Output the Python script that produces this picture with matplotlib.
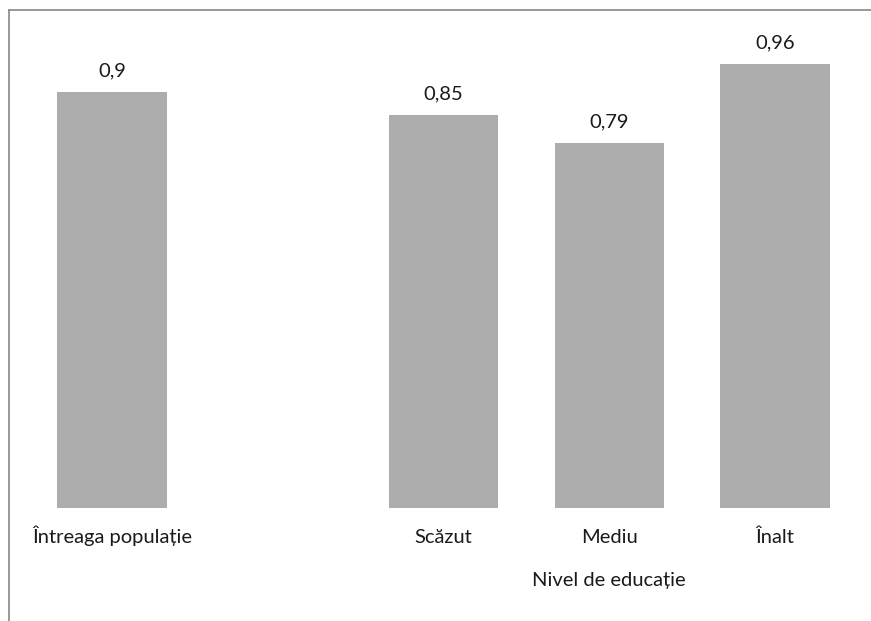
import matplotlib.pyplot as plt
from matplotlib.lines import Line2D

# categories and values
labels = ["Întreaga populație", "Scăzut", "Mediu", "Înalt"]
positions = [0, 2, 3, 4]
values = [0.9, 0.85, 0.79, 0.96]
value_text = ["0,9", "0,85", "0,79", "0,96"]

plt.rcParams['font.family'] = ['Lato', 'DejaVu Sans']
FS = 14.5

W, H = 871, 621
fig = plt.figure(figsize=(W / 100, H / 100), dpi=100)

# axes placed in pixel terms
left, right, bottom, top = 29, 858, 508, 46
ax = fig.add_axes([left / W, 1 - bottom / H, (right - left) / W, (bottom - top) / H])

ax.bar(positions, values, width=0.66, color="#adadad")
for x, v, t in zip(positions, values, value_text):
    ax.annotate(t, (x, v), xytext=(0, 11.5), textcoords="offset points",
                ha="center", va="baseline", fontsize=FS, color="#1a1a1a")

ax.set_xlim(-0.5, 4.5)
ax.set_ylim(0, 1)
ax.set_xticks([])
ax.set_yticks([])
for s in ax.spines.values():
    s.set_visible(False)

# category labels, baselines aligned
for x, lab in zip(positions, labels):
    ax.annotate(lab, (x, 0), xytext=(0, -25), textcoords="offset points",
                ha="center", va="baseline", fontsize=FS, color="#1a1a1a")

# axis title under the three education levels
ax.annotate("Nivel de educație", (3, 0), xytext=(0, -56.5), textcoords="offset points",
            ha="center", va="baseline", fontsize=FS, color="#1a1a1a")

# outer chart border (only left and top visible in the crop)
fig.add_artist(Line2D([8.5 / W, 8.5 / W], [0, 1 - 10 / H], color="#888888", lw=1.2))
fig.add_artist(Line2D([8.5 / W, 1], [1 - 10 / H, 1 - 10 / H], color="#888888", lw=1.2))

fig.savefig("out.png", dpi=100)
